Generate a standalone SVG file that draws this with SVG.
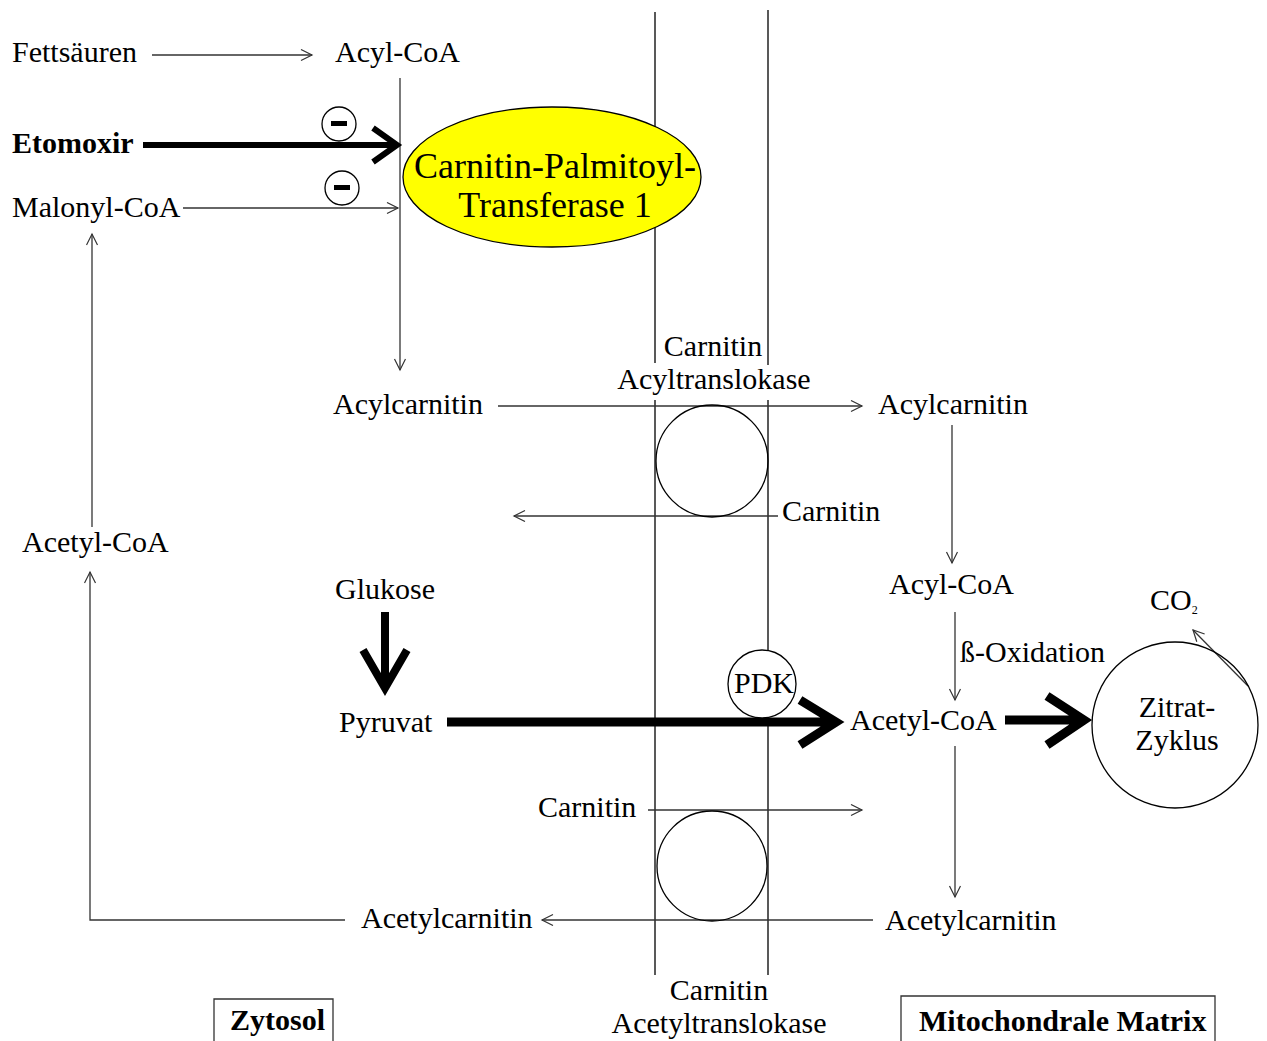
<svg xmlns="http://www.w3.org/2000/svg" width="1267" height="1041" viewBox="0 0 1267 1041">
<style>
text{font-family:"Liberation Serif","Times New Roman",serif;font-size:30px;fill:#000}
.b{font-weight:bold}
.big{font-size:36px}
.sub{font-size:12px}
.thin{fill:none;stroke:#333;stroke-width:1.3}
.mem{fill:none;stroke:#222;stroke-width:1.5}
.thick{fill:none;stroke:#000;stroke-linejoin:miter}
.circ{fill:#fff;stroke:#000;stroke-width:1.3}
.ring{fill:none;stroke:#000;stroke-width:1.3}
</style>
<defs>
<marker id="a" markerUnits="userSpaceOnUse" markerWidth="14" markerHeight="14" refX="12" refY="6" orient="auto">
<path d="M1,0.5 L12,6 L1,11.5" fill="none" stroke="#333" stroke-width="1.2"/>
</marker>
</defs>
<rect width="1267" height="1041" fill="#fff"/>

<g id="membranes">
<line class="mem" x1="655" y1="12" x2="655" y2="363"/>
<line class="mem" x1="768" y1="10" x2="768" y2="365"/>
<line class="mem" x1="655" y1="400" x2="655" y2="975"/>
<line class="mem" x1="768" y1="400" x2="768" y2="975"/>
</g>

<g id="connectors">
<line class="thin" x1="152" y1="55" x2="312" y2="55" marker-end="url(#a)"/>
<line class="thin" x1="400" y1="78" x2="400" y2="370" marker-end="url(#a)"/>
<line class="thin" x1="183" y1="208" x2="398" y2="208" marker-end="url(#a)"/>
<line class="thin" x1="92" y1="527" x2="92" y2="234" marker-end="url(#a)"/>
<polyline class="thin" points="345,920 90,920 90,572" marker-end="url(#a)"/>
<line class="thin" x1="498" y1="406" x2="862" y2="406" marker-end="url(#a)"/>
<line class="thin" x1="778" y1="516" x2="514" y2="516" marker-end="url(#a)"/>
<line class="thin" x1="952" y1="425" x2="952" y2="563" marker-end="url(#a)"/>
<line class="thin" x1="955" y1="612" x2="955" y2="700" marker-end="url(#a)"/>
<line class="thin" x1="955" y1="746" x2="955" y2="897" marker-end="url(#a)"/>
<line class="thin" x1="648" y1="810" x2="862" y2="810" marker-end="url(#a)"/>
<line class="thin" x1="873" y1="920" x2="542" y2="920" marker-end="url(#a)"/>
<line class="thin" x1="1248" y1="686" x2="1193" y2="630" marker-end="url(#a)"/>
<path class="thick" stroke-width="6" d="M143,145 H395 M373,128 L397,145 L373,162"/>
<path class="thick" stroke-width="8" d="M385,612 V686 M363,650 L385,688 L407,650"/>
<path class="thick" stroke-width="9" d="M447,722 H834 M800,700 L836,722 L800,745"/>
<path class="thick" stroke-width="9" d="M1005,720 H1082 M1047,696 L1084,720 L1047,745"/>
</g>

<g id="cpt1">
<ellipse cx="552" cy="177" rx="149" ry="70" fill="#ffff00" stroke="#000" stroke-width="1.3"/>
<text x="555" y="178" text-anchor="middle" class="big">Carnitin-Palmitoyl-</text>
<text x="555" y="217" text-anchor="middle" class="big">Transferase 1</text>
</g>

<g id="inhib1"><circle class="circ" cx="339" cy="124" r="17"/><rect x="331" y="121" width="16" height="5"/></g>
<g id="inhib2"><circle class="circ" cx="342" cy="188" r="17"/><rect x="334" y="185" width="16" height="5"/></g>

<g id="acyltrans"><circle class="ring" cx="712" cy="461" r="56"/></g>
<g id="acetyltrans"><circle class="ring" cx="712" cy="866" r="55"/></g>
<g id="pdk"><circle class="circ" cx="762" cy="684" r="34"/><text x="764" y="693" text-anchor="middle">PDK</text></g>
<g id="zitrat"><circle class="ring" cx="1175" cy="725" r="83"/>
<text x="1177" y="717" text-anchor="middle">Zitrat-</text>
<text x="1177" y="750" text-anchor="middle">Zyklus</text></g>

<g id="fettsaeuren"><text x="12" y="62">Fettsäuren</text></g>
<g id="acylcoa1"><text x="335" y="62">Acyl-CoA</text></g>
<g id="etomoxir"><text x="12" y="153" class="b">Etomoxir</text></g>
<g id="malonylcoa"><text x="12" y="217">Malonyl-CoA</text></g>
<g id="acetylcoa1"><text x="22" y="552">Acetyl-CoA</text></g>
<g id="cat1label"><text x="713" y="356" text-anchor="middle">Carnitin</text><text x="714" y="389" text-anchor="middle">Acyltranslokase</text></g>
<g id="acylcarnitin1"><text x="333" y="414">Acylcarnitin</text></g>
<g id="acylcarnitin2"><text x="878" y="414">Acylcarnitin</text></g>
<g id="carnitin1"><text x="782" y="521">Carnitin</text></g>
<g id="glukose"><text x="335" y="599">Glukose</text></g>
<g id="acylcoa2"><text x="889" y="594">Acyl-CoA</text></g>
<g id="co2"><text x="1150" y="610">CO<tspan class="sub" dy="4">2</tspan></text></g>
<g id="boxidation"><text x="960" y="662">ß-Oxidation</text></g>
<g id="pyruvat"><text x="339" y="732">Pyruvat</text></g>
<g id="acetylcoa2"><text x="850" y="730">Acetyl-CoA</text></g>
<g id="carnitin2"><text x="538" y="817">Carnitin</text></g>
<g id="acetylcarnitin1"><text x="361" y="928">Acetylcarnitin</text></g>
<g id="acetylcarnitin2"><text x="885" y="930">Acetylcarnitin</text></g>
<g id="cat2label"><text x="719" y="1000" text-anchor="middle">Carnitin</text><text x="719" y="1033" text-anchor="middle">Acetyltranslokase</text></g>
<g id="zytosol"><path class="thin" d="M214,1041 V999 H333 V1041" stroke="#000"/><text x="230" y="1030" class="b">Zytosol</text></g>
<g id="matrix"><path class="thin" d="M901,1041 V996 H1215 V1041" stroke="#000"/><text x="919" y="1031" class="b">Mitochondrale Matrix</text></g>
</svg>
